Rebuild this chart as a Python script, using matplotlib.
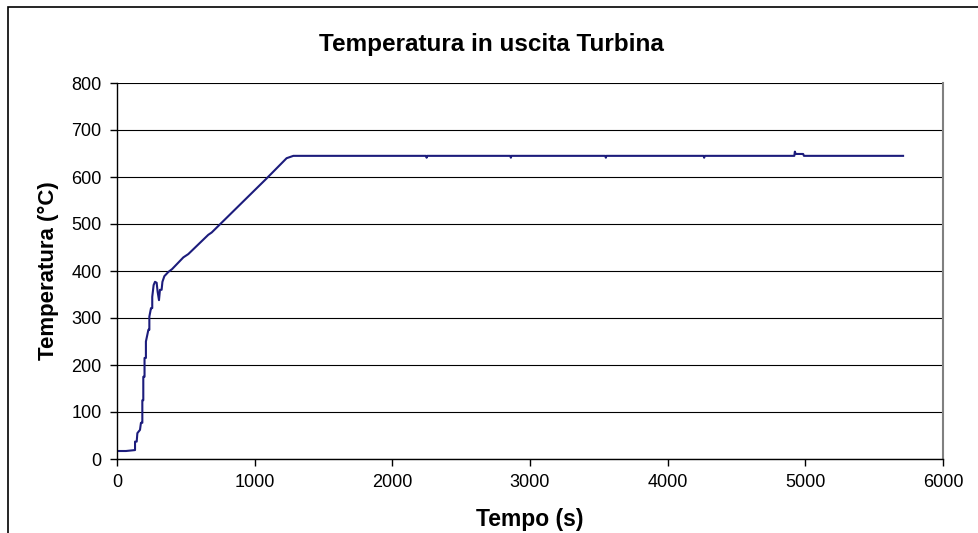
import matplotlib
matplotlib.use('Agg')
import matplotlib.pyplot as plt
from matplotlib.patches import Rectangle

# turbine outlet temperature
tempo = [0, 65, 131, 131, 143, 148, 167, 174, 184, 184, 191, 191, 200, 200, 210, 210,
         228, 235, 235, 247, 256, 256, 266, 276, 288, 295, 305, 312, 324, 330, 344, 373,
         400, 482, 518, 663, 688, 1087, 1232, 1281, 1293,
         2245, 2249, 2253, 2857, 2861, 2865, 3547, 3551, 3555, 4261, 4265, 4269,
         4920, 4924, 4930, 4984, 4990, 5710]
temperatura = [17, 17, 19, 37, 37, 55, 62, 77, 77, 125, 125, 175, 175, 215, 215, 250,
               275, 275, 303, 321, 321, 345, 370, 377, 375, 356, 338, 360, 360, 377, 389, 398,
               404, 429, 436, 477, 482, 597, 640, 645, 645,
               645, 641, 645, 645, 641, 645, 645, 641, 645, 645, 641, 645,
               645, 654, 649, 649, 645, 645]

plt.rcParams['font.family'] = ['Liberation Sans', 'DejaVu Sans']

fig = plt.figure(figsize=(9.79, 5.33), dpi=100)
ax = fig.add_axes([117/979, 1-459/533, (943-117)/979, (459-83)/533])

ax.plot(tempo, temperatura, color='#1c1c7c', linewidth=1.5)

ax.set_xlim(0, 6000)
ax.set_ylim(0, 800)
ax.set_xticks(range(0, 6001, 1000))
ax.set_yticks(range(0, 801, 100))
ax.yaxis.grid(True, color='#000000', linewidth=0.8)
ax.set_axisbelow(True)

ax.spines['top'].set_visible(False)
ax.spines['right'].set_color('#808080')
ax.spines['right'].set_linewidth(1.5)
ax.spines['left'].set_linewidth(1.0)
ax.spines['bottom'].set_linewidth(1.0)
ax.tick_params(direction='out', length=5, width=1, labelsize=13, pad=6)

# title is centred on the whole chart frame, not on the plot area
fig.text(491/979, 1-45/533, 'Temperatura in uscita Turbina', fontsize=17.5,
         fontweight='bold', ha='center', va='center')
ax.set_xlabel('Tempo (s)', fontsize=16.5, fontweight='bold', labelpad=12)
ax.set_ylabel('Temperatura (°C)', fontsize=16, fontweight='bold', labelpad=9)

# outer chart frame (only left and top edges fall inside the picture)
fig.patches.append(Rectangle((8/979, -0.2), 1.2, 1.2 - 7/533, transform=fig.transFigure,
                             fill=False, edgecolor='black', linewidth=1.2))

fig.savefig('out.png', dpi=100)
